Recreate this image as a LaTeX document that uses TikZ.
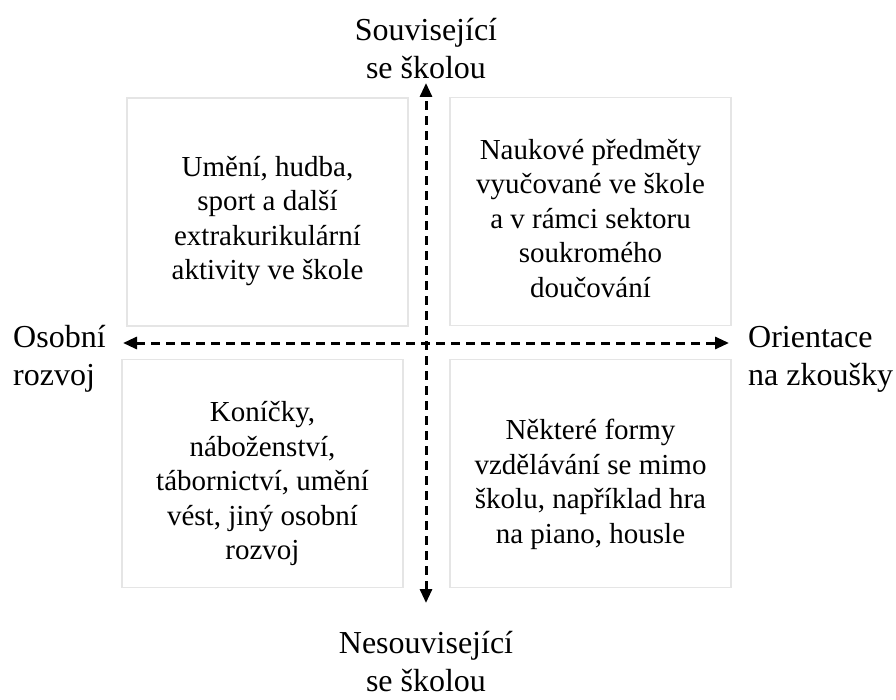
\documentclass[tikz,border=0pt]{standalone}
\usepackage{fontspec}
\setmainfont{Liberation Serif}
\usetikzlibrary{positioning, arrows.meta}

\begin{document}
\begin{tikzpicture}[x=1pt, y=-1pt,
    pole/.style={draw=gray!20, line width=1.5pt, minimum width=281pt,
        minimum height=228pt, inner sep=0pt},
    obsah/.style={align=center, inner sep=0pt,
        font=\fontsize{29}{34.5}\selectfont},
    popis/.style={inner sep=0pt, font=\fontsize{32}{38}\selectfont},
    osa/.style={line width=3pt, dash pattern=on 9pt off 6pt,
        {Triangle[length=14pt, width=12pt]}-{Triangle[length=14pt, width=12pt]}}]

    \useasboundingbox (0, 0) rectangle (896, 700);

    % Quadrants
    \node[pole] (skolniOsobni) at (267.5, 212) {};
    \node[pole] (skolniZkousky) at (590.5, 211.5) {};
    \node[pole] (mimoOsobni) at (262.5, 473.5) {};
    \node[pole] (mimoZkousky) at (590.5, 473.5) {};

    \node[obsah] (textSO) at ([yshift=-9pt]skolniOsobni.center)
        {Umění, hudba,\\sport a další\\extrakurikulární\\aktivity ve škole};
    \node[obsah] (textSZ) at ([yshift=-7pt]skolniZkousky.center)
        {Naukové předměty\\vyučované ve škole\\a v rámci sektoru\\soukromého\\doučování};
    \node[obsah] (textMO) at ([yshift=-10pt]mimoOsobni.center)
        {Koníčky,\\náboženství,\\tábornictví, umění\\vést, jiný osobní\\rozvoj};
    \node[obsah] (textMZ) at ([yshift=-11pt]mimoZkousky.center)
        {Některé formy\\vzdělávání se mimo\\školu, například hra\\na piano, housle};

    % Axis ends
    \coordinate (nahore) at (426, 83);
    \coordinate (dole) at (426, 603);
    \coordinate (vlevo) at (123, 343);
    \coordinate (vpravo) at (729, 343);

    \draw[osa] (dole) -- (nahore);
    \draw[osa] (vlevo) -- (vpravo);

    % Axis labels
    \node[popis, align=center] (souvisejici) at (426, 49) {Související\\se školou};
    \node[popis, align=center] (nesouvisejici) at (426, 662) {Nesouvisející\\se školou};
    \node[popis, align=left, anchor=west] (osobni) at (13, 359) {Osobní\\rozvoj};
    \node[popis, align=left, anchor=west] (orientace) at (748, 359) {Orientace\\na zkoušky};

\end{tikzpicture}
\end{document}
